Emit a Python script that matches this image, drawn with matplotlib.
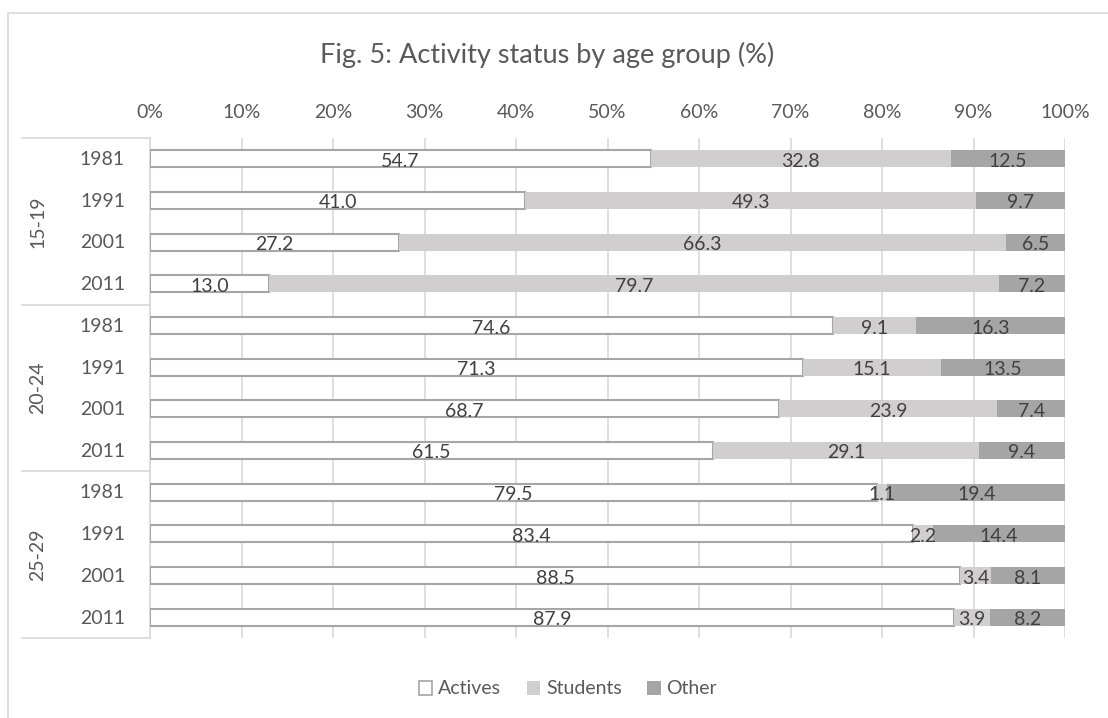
import matplotlib
matplotlib.use("Agg")
import matplotlib.pyplot as plt
from matplotlib.patches import Rectangle, Patch
from matplotlib.lines import Line2D

plt.rcParams['font.family'] = ['Lato', 'DejaVu Sans']

age_groups = ["15-19", "20-24", "25-29"]
years = ["1981", "1991", "2001", "2011"]
actives = [54.7, 41.0, 27.2, 13.0, 74.6, 71.3, 68.7, 61.5, 79.5, 83.4, 88.5, 87.9]
students = [32.8, 49.3, 66.3, 79.7, 9.1, 15.1, 23.9, 29.1, 1.1, 2.2, 3.4, 3.9]
other = [12.5, 9.7, 6.5, 7.2, 16.3, 13.5, 7.4, 9.4, 19.4, 14.4, 8.1, 8.2]
series_names = ["Actives", "Students", "Other"]
x_ticks = [0, 10, 20, 30, 40, 50, 60, 70, 80, 90, 100]

text_c = "#595959"
lab_c = "#404040"
grid_c = "#D9D9D9"
c_act = "#FFFFFF"
c_act_edge = "#A6A6A6"
c_stu = "#D0CECE"
c_oth = "#A5A5A5"
FS = 14

W, H = 1108, 718
fig = plt.figure(figsize=(W / 100, H / 100), dpi=100)
ax = fig.add_axes([150 / W, 1 - 638 / H, (1065 - 150) / W, (638 - 138) / H])

n = len(actives)
ys = list(range(n))
totals = [a + s + o for a, s, o in zip(actives, students, other)]
act_p = [a / t * 100 for a, t in zip(actives, totals)]
stu_p = [s / t * 100 for s, t in zip(students, totals)]
oth_p = [o / t * 100 for o, t in zip(other, totals)]

bh = 0.41
ax.barh(ys, act_p, height=bh, color=c_act, edgecolor=c_act_edge, linewidth=1.5, zorder=3)
left2 = act_p
ax.barh(ys, stu_p, left=left2, height=bh, color=c_stu, edgecolor="none", zorder=3)
left3 = [a + s for a, s in zip(act_p, stu_p)]
ax.barh(ys, oth_p, left=left3, height=bh, color=c_oth, edgecolor="none", zorder=3)

lab_off = 0.06
for i in range(n):
    ax.text(act_p[i] / 2, i + lab_off, f"{actives[i]:.1f}", ha="center", va="center",
            fontsize=FS, color=lab_c, zorder=5)
    ax.text(left2[i] + stu_p[i] / 2, i + lab_off, f"{students[i]:.1f}", ha="center", va="center",
            fontsize=FS, color=lab_c, zorder=5)
    ax.text(left3[i] + oth_p[i] / 2, i + lab_off, f"{other[i]:.1f}", ha="center", va="center",
            fontsize=FS, color=lab_c, zorder=5)

ax.set_xlim(0, 100)
ax.set_ylim(n - 0.5, -0.5)
ax.set_xticks(x_ticks)
ax.set_xticklabels([f"{t}%" for t in x_ticks], fontsize=FS, color=text_c)
ax.xaxis.tick_top()
ax.tick_params(axis="x", length=0, pad=12.5)
ax.set_yticks([])
ax.grid(axis="x", color=grid_c, linewidth=1.2, zorder=0)
for s in ["top", "right", "bottom"]:
    ax.spines[s].set_visible(False)
ax.spines["left"].set_color(grid_c)
ax.spines["left"].set_linewidth(1.2)

# category labels (years and groups) on the left
trans = ax.get_yaxis_transform()
for i in range(n):
    ax.text(-25 / 915, i + 0.02, years[i % 4], transform=trans, ha="right", va="center",
            fontsize=FS, color=text_c)
for g, name in enumerate(age_groups):
    yc = g * 4 + 1.5
    ax.text(-112 / 915, yc, name, transform=trans, ha="center", va="center",
            rotation=90, fontsize=FS, color=text_c)
for b in [-0.5, 3.5, 7.5, 11.5]:
    ax.add_line(Line2D([-128 / 915, 0], [b, b], transform=trans, color=grid_c,
                       linewidth=1.2, clip_on=False))

fig.text(547 / W, 1 - 63 / H, "Fig. 5: Activity status by age group (%)",
         ha="center", va="baseline", fontsize=19.5, color=text_c)

handles = [Patch(facecolor=c_act, edgecolor=c_act_edge, linewidth=1.2),
           Patch(facecolor=c_stu, edgecolor="none"),
           Patch(facecolor=c_oth, edgecolor="none")]
leg = fig.legend(handles, series_names, loc="center", bbox_to_anchor=(568 / W, 1 - 689 / H),
                 ncol=3, frameon=False, fontsize=FS, handlelength=0.7, handleheight=0.7,
                 handletextpad=0.3, columnspacing=1.3)
for t in leg.get_texts():
    t.set_color(text_c)

fig.patches.append(Rectangle((8 / W, -0.05), 1.2, 1 - 13 / H + 0.05,
                             transform=fig.transFigure, fill=False, edgecolor="#D9D9D9",
                             linewidth=1.2))

fig.savefig("out.png", dpi=100)
